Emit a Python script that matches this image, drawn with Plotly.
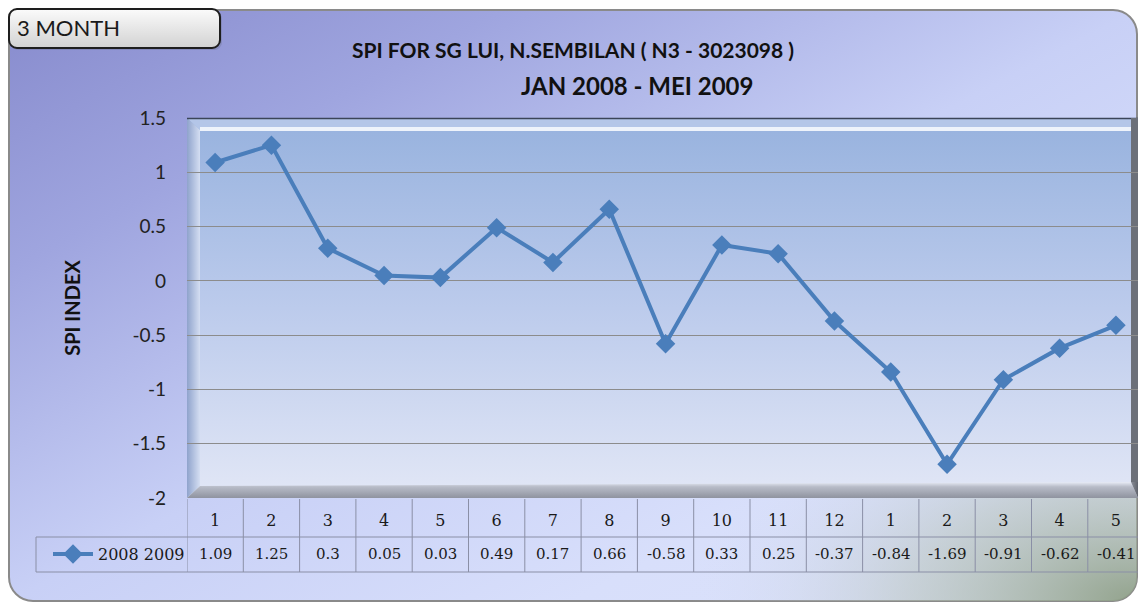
import base64
import plotly.graph_objects as go

# ---------------- data ----------------
month_labels = ["1", "2", "3", "4", "5", "6", "7", "8", "9", "10", "11", "12",
                "1", "2", "3", "4", "5"]
spi_values = [1.09, 1.25, 0.3, 0.05, 0.03, 0.49, 0.17, 0.66, -0.58, 0.33, 0.25,
              -0.37, -0.84, -1.69, -0.91, -0.62, -0.41]
series_name = "2008 2009"
y_tick_values = [-2, -1.5, -1, -0.5, 0, 0.5, 1, 1.5]
y_tick_labels = ["-2", "-1.5", "-1", "-0.5", "0", "0.5", "1", "1.5"]
title_line1 = "SPI FOR SG LUI, N.SEMBILAN ( N3 - 3023098 )"
title_line2 = "JAN 2008 - MEI 2009"
box_label = "3 MONTH"
y_title = "SPI INDEX"

# ---------------- geometry ----------------
# The page body has an 8px margin on every side, so the figure is drawn
# 16px smaller (fits the window without scrolling) and all reference-pixel
# positions are shifted by OFF.
OFF = 8
W, H = 1146 - 2 * OFF, 610 - 2 * OFF
L, R, T = 187 - OFF, 0, 118 - OFF
B = H - (498 - OFF)
PW, PH = W - L - R, H - T - B
COL = 56.3                      # pixel width of one category column
x_max = -0.5 + PW / COL

def py(yref):   # reference pixel y -> paper y
    return (H - B - (yref - OFF)) / PH

def px(xref):   # reference pixel x -> paper x
    return ((xref - OFF) - L) / PW

RE = OFF + W    # right edge of the drawable area in reference pixels (1138)

# ---------------- background artwork (styling only, reference pixel coords) ----
svg = f'''<svg xmlns="http://www.w3.org/2000/svg" width="{W}" height="{H}" viewBox="{OFF} {OFF} {W} {H}">
<defs>
 <linearGradient id="bg" x1="0" y1="0" x2="1" y2="1">
  <stop offset="0" stop-color="#878bcd"/>
  <stop offset="0.22" stop-color="#9fa5df"/>
  <stop offset="0.5" stop-color="#c8d0f6"/>
  <stop offset="0.75" stop-color="#d8dffb"/>
  <stop offset="1" stop-color="#dde3fa"/>
 </linearGradient>
 <radialGradient id="gr" cx="1" cy="1" r="0.4">
  <stop offset="0" stop-color="#8e9f86" stop-opacity="0.95"/>
  <stop offset="0.5" stop-color="#b4c0b4" stop-opacity="0.5"/>
  <stop offset="1" stop-color="#d8e0fa" stop-opacity="0"/>
 </radialGradient>
 <linearGradient id="pa" x1="0" y1="0" x2="0" y2="1">
  <stop offset="0" stop-color="#97b2de"/>
  <stop offset="0.5" stop-color="#bccbec"/>
  <stop offset="1" stop-color="#e2e7f6"/>
 </linearGradient>
 <linearGradient id="lw" x1="0" y1="0" x2="1" y2="0">
  <stop offset="0" stop-color="#8fa3cc"/>
  <stop offset="1" stop-color="#d4def2"/>
 </linearGradient>
 <linearGradient id="fl" x1="0" y1="0" x2="0" y2="1">
  <stop offset="0" stop-color="#e8ecf6"/>
  <stop offset="0.3" stop-color="#b8bcc8"/>
  <stop offset="1" stop-color="#8f939f"/>
 </linearGradient>
 <linearGradient id="rw" x1="0" y1="0" x2="1" y2="0">
  <stop offset="0" stop-color="#8a8e98"/>
  <stop offset="1" stop-color="#5f636c"/>
 </linearGradient>
 <linearGradient id="bx" x1="0" y1="0" x2="0" y2="1">
  <stop offset="0" stop-color="#fbfbfb"/>
  <stop offset="1" stop-color="#d2d2d2"/>
 </linearGradient>
</defs>
<rect x="0" y="0" width="1200" height="700" fill="#ffffff"/>
<rect x="9" y="10" width="{RE - 10}" height="591" rx="24" fill="url(#bg)" stroke="#8a8a8a" stroke-width="2"/>
<rect x="9" y="10" width="{RE - 10}" height="591" rx="24" fill="url(#gr)"/>
<rect x="187" y="118" width="{RE - 187}" height="380" fill="url(#pa)"/>
<polygon points="187,118 {RE},118 {RE - 7},130 200,130" fill="#b4c6e8"/>
<rect x="200" y="127" width="{RE - 207}" height="4" fill="#eef3fb"/>
<polygon points="187,118 200,130 200,486 187,498" fill="url(#lw)"/>
<polygon points="200,486 {RE - 7},482 {RE},498 187,498" fill="url(#fl)"/>
<polygon points="{RE - 7},118 {RE},118 {RE},498 {RE - 7},482" fill="url(#rw)"/>
<line x1="187" y1="118.5" x2="{RE}" y2="118.5" stroke="#3b4558" stroke-width="1.5"/>
<rect x="11" y="11" width="211" height="39" rx="8" fill="#6a6f90" opacity="0.35"/>
<rect x="9" y="9" width="211" height="39" rx="8" fill="url(#bx)" stroke="#1e1e1e" stroke-width="2"/>
</svg>'''
svg_uri = "data:image/svg+xml;base64," + base64.b64encode(svg.encode()).decode()

# ---------------- figure ----------------
x_pos = list(range(len(spi_values)))
line_color = "#4a7ebb"

fig = go.Figure()
fig.add_trace(go.Scatter(
    x=x_pos, y=spi_values, name=series_name, mode="lines+markers",
    line=dict(color=line_color, width=4),
    marker=dict(symbol="diamond", size=15, color=line_color),
    cliponaxis=False,
))

grid_col = "#8a8fa6"
shapes = []
# right side wall of the 3-D plot box (covers the gridline ends)
shapes.append(dict(type="rect", xref="paper", yref="paper", layer="between",
                   x0=px(RE - 7), x1=1, y0=py(482), y1=py(118),
                   fillcolor="#6c7079", line=dict(width=0)))
# table: vertical separators on column boundaries
for i in range(len(month_labels)):
    shapes.append(dict(type="line", xref="x", yref="paper",
                       x0=i - 0.5, x1=i - 0.5, y0=py(499), y1=py(572),
                       line=dict(color=grid_col, width=1)))
# table: horizontal lines
for yy in (537, 572):
    shapes.append(dict(type="line", xref="paper", yref="paper",
                       x0=px(36), x1=1, y0=py(yy), y1=py(yy),
                       line=dict(color=grid_col, width=1)))
# legend-cell left border
shapes.append(dict(type="line", xref="paper", yref="paper",
                   x0=px(36), x1=px(36), y0=py(537), y1=py(572),
                   line=dict(color=grid_col, width=1)))

table_font = dict(family="DejaVu Serif", size=15, color="#1a1a1a")
annotations = []
for i, v in enumerate(spi_values):
    annotations.append(dict(x=i, y=py(554), xref="x", yref="paper",
                            text=f"{v:g}", showarrow=False, font=table_font,
                            xanchor="center", yanchor="middle"))
annotations.append(dict(x=px(637), y=py(86), xref="paper", yref="paper",
                        text=f"<b>{title_line2}</b>", showarrow=False,
                        font=dict(family="Lato", size=24, color="#111111"),
                        xanchor="center", yanchor="middle"))
annotations.append(dict(x=px(15), y=py(27), xref="paper", yref="paper",
                        text=box_label, showarrow=False,
                        font=dict(family="Lato", size=22, color="#1a1a1a"),
                        xanchor="left", yanchor="middle"))

fig.update_layout(
    width=W, height=H,
    margin=dict(l=L, r=R, t=T, b=B, pad=0),
    paper_bgcolor="rgba(0,0,0,0)",
    plot_bgcolor="rgba(0,0,0,0)",
    title=dict(text=f"<b>{title_line1}</b>", x=(573 - OFF) / W, xref="container",
               y=1 - (51 - OFF) / H, yref="container", xanchor="center", yanchor="middle",
               font=dict(family="Lato", size=21, color="#111111")),
    xaxis=dict(range=[-0.5, x_max], tickvals=x_pos, ticktext=month_labels,
               showgrid=False, zeroline=False, showline=False, ticks="",
               tickfont=dict(family="DejaVu Serif", size=16, color="#1a1a1a"),
               ticklabelstandoff=11, fixedrange=True),
    yaxis=dict(range=[-2, 1.5], tickvals=y_tick_values, ticktext=y_tick_labels,
               showgrid=True, gridcolor="#8c8c8c", gridwidth=1, zeroline=False,
               showline=False, ticks="", ticklabelstandoff=20,
               tickfont=dict(family="Lato", size=19, color="#222222"),
               title=dict(text=f"<b>{y_title}</b>", standoff=46,
                          font=dict(family="Lato", size=20, color="#111111")),
               fixedrange=True),
    showlegend=True,
    legend=dict(x=px(190), y=py(554), xanchor="right", yanchor="middle",
                bgcolor="rgba(0,0,0,0)", borderwidth=0,
                font=dict(family="DejaVu Serif", size=16, color="#1a1a1a"),
                itemwidth=40),
    shapes=shapes,
    annotations=annotations,
    images=[dict(source=svg_uri, xref="paper", yref="paper",
                 x=-L / PW, y=(H - B) / PH, sizex=W / PW, sizey=H / PH,
                 xanchor="left", yanchor="top", sizing="stretch", layer="below")],
)

fig.write_html("out.html")
